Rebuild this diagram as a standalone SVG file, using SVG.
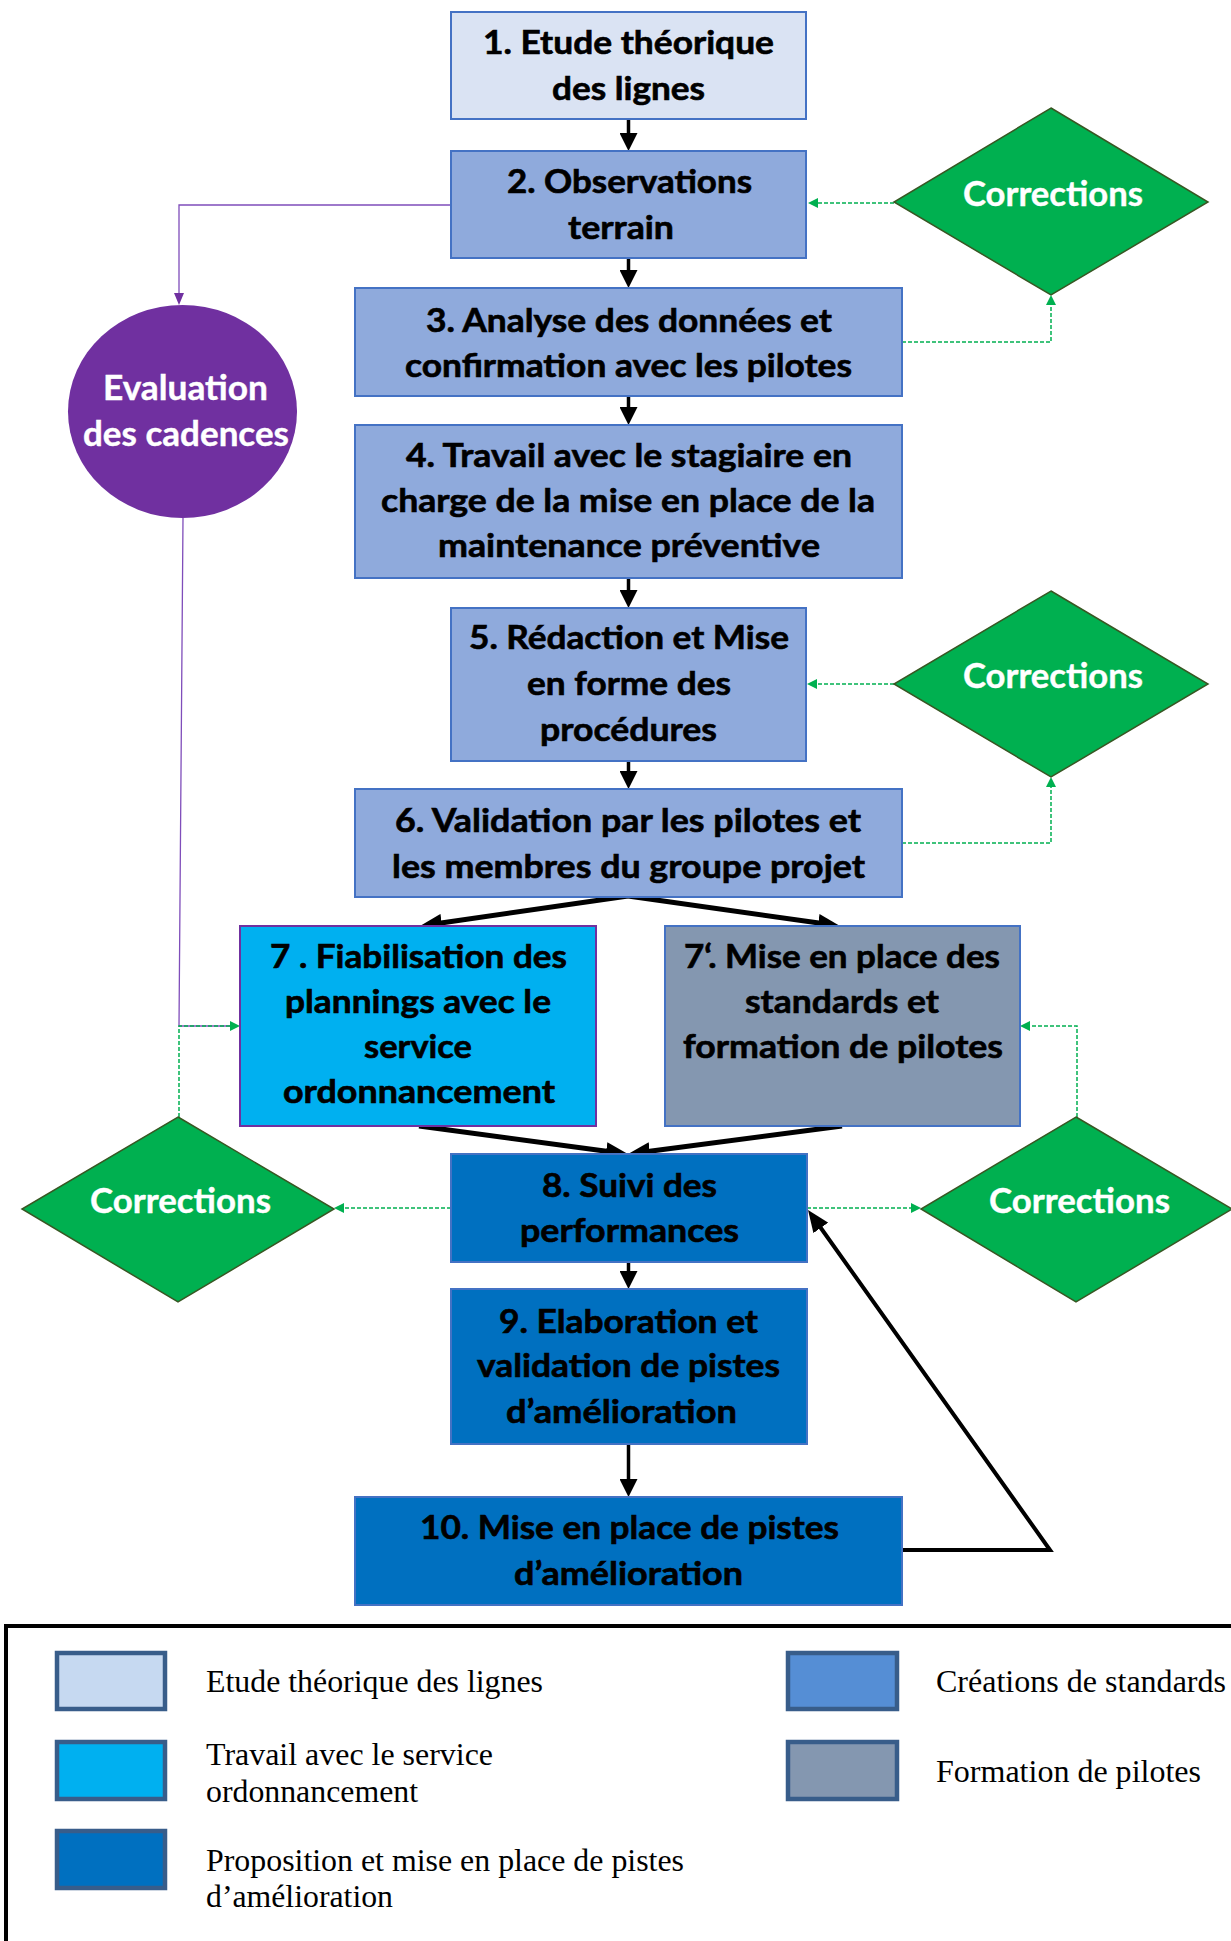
<svg xmlns="http://www.w3.org/2000/svg" width="1231" height="1941" viewBox="0 0 1231 1941">
<style>
.nt{font-family:Lato,"Liberation Sans",sans-serif;font-weight:bold;font-size:32px;fill:#000;stroke:#000;stroke-width:0.6}
.wt{font-family:Lato,"Liberation Sans",sans-serif;font-weight:bold;font-size:34px;fill:#fff;stroke:#fff;stroke-width:0.4}
.lt{font-family:"Liberation Serif","Times New Roman",serif;font-size:31px;fill:#000}
.bx{stroke:#4472C4;stroke-width:2}
.dia{fill:#00B050;stroke:#385723;stroke-width:1.5}
.sw{stroke:#385D8A;stroke-width:4.5}
.blk{fill:none;stroke:#000;stroke-width:3.5}
.thk{fill:none;stroke:#000;stroke-width:5}
.grn{fill:none;stroke:#00B050;stroke-width:1.5;stroke-dasharray:4 2}
.pur{fill:none;stroke:#7F4DBA;stroke-width:1.3}
</style>
<defs>
<marker id="ab" markerUnits="userSpaceOnUse" markerWidth="18" markerHeight="18" refX="5" refY="9" orient="auto"><path d="M0,0 L18,9 L0,18 z" fill="#000"/></marker>
<marker id="abig" markerUnits="userSpaceOnUse" markerWidth="22" markerHeight="18" refX="6" refY="9" orient="auto"><path d="M0,0 L22,9 L0,18 z" fill="#000"/></marker>
<marker id="ag" markerUnits="userSpaceOnUse" markerWidth="10" markerHeight="10" refX="2" refY="5" orient="auto"><path d="M0,0 L10,5 L0,10 z" fill="#00B050"/></marker>
<marker id="ap" markerUnits="userSpaceOnUse" markerWidth="12" markerHeight="10" refX="2" refY="5" orient="auto"><path d="M0,0 L12,5 L0,10 z" fill="#7030A0"/></marker>
</defs>

<g id="connectors">
<path class="blk" d="M628.5,119 V138" marker-end="url(#ab)"/>
<path class="blk" d="M628.5,258 V275" marker-end="url(#ab)"/>
<path class="blk" d="M628.5,396 V412" marker-end="url(#ab)"/>
<path class="blk" d="M628.5,578 V595" marker-end="url(#ab)"/>
<path class="blk" d="M628.5,761 V776" marker-end="url(#ab)"/>
<path class="blk" d="M628.5,1262 V1276" marker-end="url(#ab)"/>
<path class="blk" d="M628.5,1444 V1484" marker-end="url(#ab)"/>
<path class="thk" d="M628,896 L435.8,923.7" marker-end="url(#abig)"/>
<path class="thk" d="M628,896 L824.2,923.8" marker-end="url(#abig)"/>
<path class="thk" d="M419,1126 L612.1,1151.9" marker-end="url(#abig)"/>
<path class="thk" d="M842,1126 L643.9,1151.9" marker-end="url(#abig)"/>
<path class="thk" style="stroke-width:4" d="M902,1550 H1050 L817.3,1223" marker-end="url(#abig)"/>
<path class="grn" d="M894,203 H816" marker-end="url(#ag)"/>
<path class="grn" d="M902,342 H1051 V303" marker-end="url(#ag)"/>
<path class="grn" d="M894,684 H815" marker-end="url(#ag)"/>
<path class="grn" d="M902,843 H1051 V785" marker-end="url(#ag)"/>
<path class="grn" d="M451,1208 H342" marker-end="url(#ag)"/>
<path class="grn" d="M807,1208 H913" marker-end="url(#ag)"/>
<path class="pur" d="M451,205 H179 V295" marker-end="url(#ap)"/>
<path class="pur" d="M183,518 L179,1026 H234"/>
<path class="grn" d="M179,1117 V1026 H232" marker-end="url(#ag)"/>
<path class="grn" d="M1077,1117 V1026 H1028" marker-end="url(#ag)"/>
</g>

<g id="n1"><rect class="bx" x="451" y="12" width="355" height="107" fill="#DAE3F3"/>
<text class="nt" x="483" y="54" textLength="291" lengthAdjust="spacingAndGlyphs">1. Etude théorique</text>
<text class="nt" x="552" y="100" textLength="153" lengthAdjust="spacingAndGlyphs">des lignes</text></g>

<g id="n2"><rect class="bx" x="451" y="151" width="355" height="107" fill="#8FAADC"/>
<text class="nt" x="507" y="193" textLength="245" lengthAdjust="spacingAndGlyphs">2. Observations</text>
<text class="nt" x="568" y="239" textLength="106" lengthAdjust="spacingAndGlyphs">terrain</text></g>

<g id="n3"><rect class="bx" x="355" y="288" width="547" height="108" fill="#8FAADC"/>
<text class="nt" x="426" y="332" textLength="406" lengthAdjust="spacingAndGlyphs">3. Analyse des données et</text>
<text class="nt" x="405" y="377" textLength="447" lengthAdjust="spacingAndGlyphs">confirmation avec les pilotes</text></g>

<g id="n4"><rect class="bx" x="355" y="425" width="547" height="153" fill="#8FAADC"/>
<text class="nt" x="406" y="467" textLength="446" lengthAdjust="spacingAndGlyphs">4. Travail avec le stagiaire en</text>
<text class="nt" x="381" y="512" textLength="494" lengthAdjust="spacingAndGlyphs">charge de la mise en place de la</text>
<text class="nt" x="438" y="557" textLength="382" lengthAdjust="spacingAndGlyphs">maintenance préventive</text></g>

<g id="n5"><rect class="bx" x="451" y="608" width="355" height="153" fill="#8FAADC"/>
<text class="nt" x="469" y="649" textLength="320" lengthAdjust="spacingAndGlyphs">5. Rédaction et Mise</text>
<text class="nt" x="527" y="695" textLength="204" lengthAdjust="spacingAndGlyphs">en forme des</text>
<text class="nt" x="540" y="741" textLength="177" lengthAdjust="spacingAndGlyphs">procédures</text></g>

<g id="n6"><rect class="bx" x="355" y="789" width="547" height="108" fill="#8FAADC"/>
<text class="nt" x="395" y="832" textLength="466" lengthAdjust="spacingAndGlyphs">6. Validation par les pilotes et</text>
<text class="nt" x="392" y="878" textLength="473" lengthAdjust="spacingAndGlyphs">les membres du groupe projet</text></g>

<g id="n7"><rect x="240" y="926" width="356" height="200" fill="#00B0F0" stroke="#7030A0" stroke-width="2"/>
<text class="nt" x="270" y="968" textLength="297" lengthAdjust="spacingAndGlyphs">7 . Fiabilisation des</text>
<text class="nt" x="285" y="1013" textLength="266" lengthAdjust="spacingAndGlyphs">plannings avec le</text>
<text class="nt" x="364" y="1058" textLength="108" lengthAdjust="spacingAndGlyphs">service</text>
<text class="nt" x="283" y="1103" textLength="272" lengthAdjust="spacingAndGlyphs">ordonnancement</text></g>

<g id="n7b"><rect class="bx" x="665" y="926" width="355" height="200" fill="#8497B0"/>
<text class="nt" x="684" y="968" textLength="316" lengthAdjust="spacingAndGlyphs">7‘. Mise en place des</text>
<text class="nt" x="745" y="1013" textLength="194" lengthAdjust="spacingAndGlyphs">standards et</text>
<text class="nt" x="683" y="1058" textLength="320" lengthAdjust="spacingAndGlyphs">formation de pilotes</text></g>

<g id="n8"><rect class="bx" x="451" y="1154" width="356" height="108" fill="#0070C0"/>
<text class="nt" x="542" y="1197" textLength="175" lengthAdjust="spacingAndGlyphs">8. Suivi des</text>
<text class="nt" x="520" y="1242" textLength="219" lengthAdjust="spacingAndGlyphs">performances</text></g>

<g id="n9"><rect class="bx" x="451" y="1289" width="356" height="155" fill="#0070C0"/>
<text class="nt" x="499" y="1333" textLength="259" lengthAdjust="spacingAndGlyphs">9. Elaboration et</text>
<text class="nt" x="477" y="1377" textLength="303" lengthAdjust="spacingAndGlyphs">validation de pistes</text>
<text class="nt" x="506" y="1423" textLength="231" lengthAdjust="spacingAndGlyphs">d’amélioration</text></g>

<g id="n10"><rect class="bx" x="355" y="1497" width="547" height="108" fill="#0070C0"/>
<text class="nt" x="420" y="1539" textLength="419" lengthAdjust="spacingAndGlyphs">10. Mise en place de pistes</text>
<text class="nt" x="514" y="1585" textLength="229" lengthAdjust="spacingAndGlyphs">d’amélioration</text></g>

<g id="eval"><ellipse cx="182.5" cy="411.5" rx="114.5" ry="106.5" fill="#7030A0"/>
<text class="wt" x="103" y="400" textLength="165" lengthAdjust="spacingAndGlyphs">Evaluation</text>
<text class="wt" x="83" y="446" textLength="206" lengthAdjust="spacingAndGlyphs">des cadences</text></g>

<g id="corr1"><polygon class="dia" points="1051,108 1208,202 1051,295 894,202"/>
<text class="wt" x="963" y="206" textLength="180" lengthAdjust="spacingAndGlyphs">Corrections</text></g>

<g id="corr2"><polygon class="dia" points="1051,591 1208,684 1051,777 894,684"/>
<text class="wt" x="963" y="688" textLength="180" lengthAdjust="spacingAndGlyphs">Corrections</text></g>

<g id="corr3"><polygon class="dia" points="178,1117 334,1209 178,1302 22,1209"/>
<text class="wt" x="90" y="1213" textLength="181" lengthAdjust="spacingAndGlyphs">Corrections</text></g>

<g id="corr4"><polygon class="dia" points="1076,1117 1232,1209 1076,1302 921,1209"/>
<text class="wt" x="989" y="1213" textLength="181" lengthAdjust="spacingAndGlyphs">Corrections</text></g>

<g id="legend">
<path d="M6,1945 V1626 H1240" fill="none" stroke="#000" stroke-width="4"/>
<rect class="sw" x="57" y="1653" width="108" height="56" fill="#C6D9F1"/>
<rect class="sw" x="57" y="1742" width="108" height="57" fill="#00B0F0"/>
<rect class="sw" x="57" y="1831" width="108" height="57" fill="#0070C0"/>
<rect class="sw" x="788" y="1653" width="109" height="56" fill="#558ED5"/>
<rect class="sw" x="788" y="1742" width="109" height="57" fill="#8497B0"/>
<text class="lt" x="206" y="1692" textLength="337" lengthAdjust="spacingAndGlyphs">Etude théorique des lignes</text>
<text class="lt" x="206" y="1765" textLength="287" lengthAdjust="spacingAndGlyphs">Travail avec le service</text>
<text class="lt" x="206" y="1802" textLength="212" lengthAdjust="spacingAndGlyphs">ordonnancement</text>
<text class="lt" x="206" y="1871" textLength="478" lengthAdjust="spacingAndGlyphs">Proposition et mise en place de pistes</text>
<text class="lt" x="206" y="1907" textLength="187" lengthAdjust="spacingAndGlyphs">d’amélioration</text>
<text class="lt" x="936" y="1692" textLength="290" lengthAdjust="spacingAndGlyphs">Créations de standards</text>
<text class="lt" x="936" y="1782" textLength="265" lengthAdjust="spacingAndGlyphs">Formation de pilotes</text>
</g>
</svg>
